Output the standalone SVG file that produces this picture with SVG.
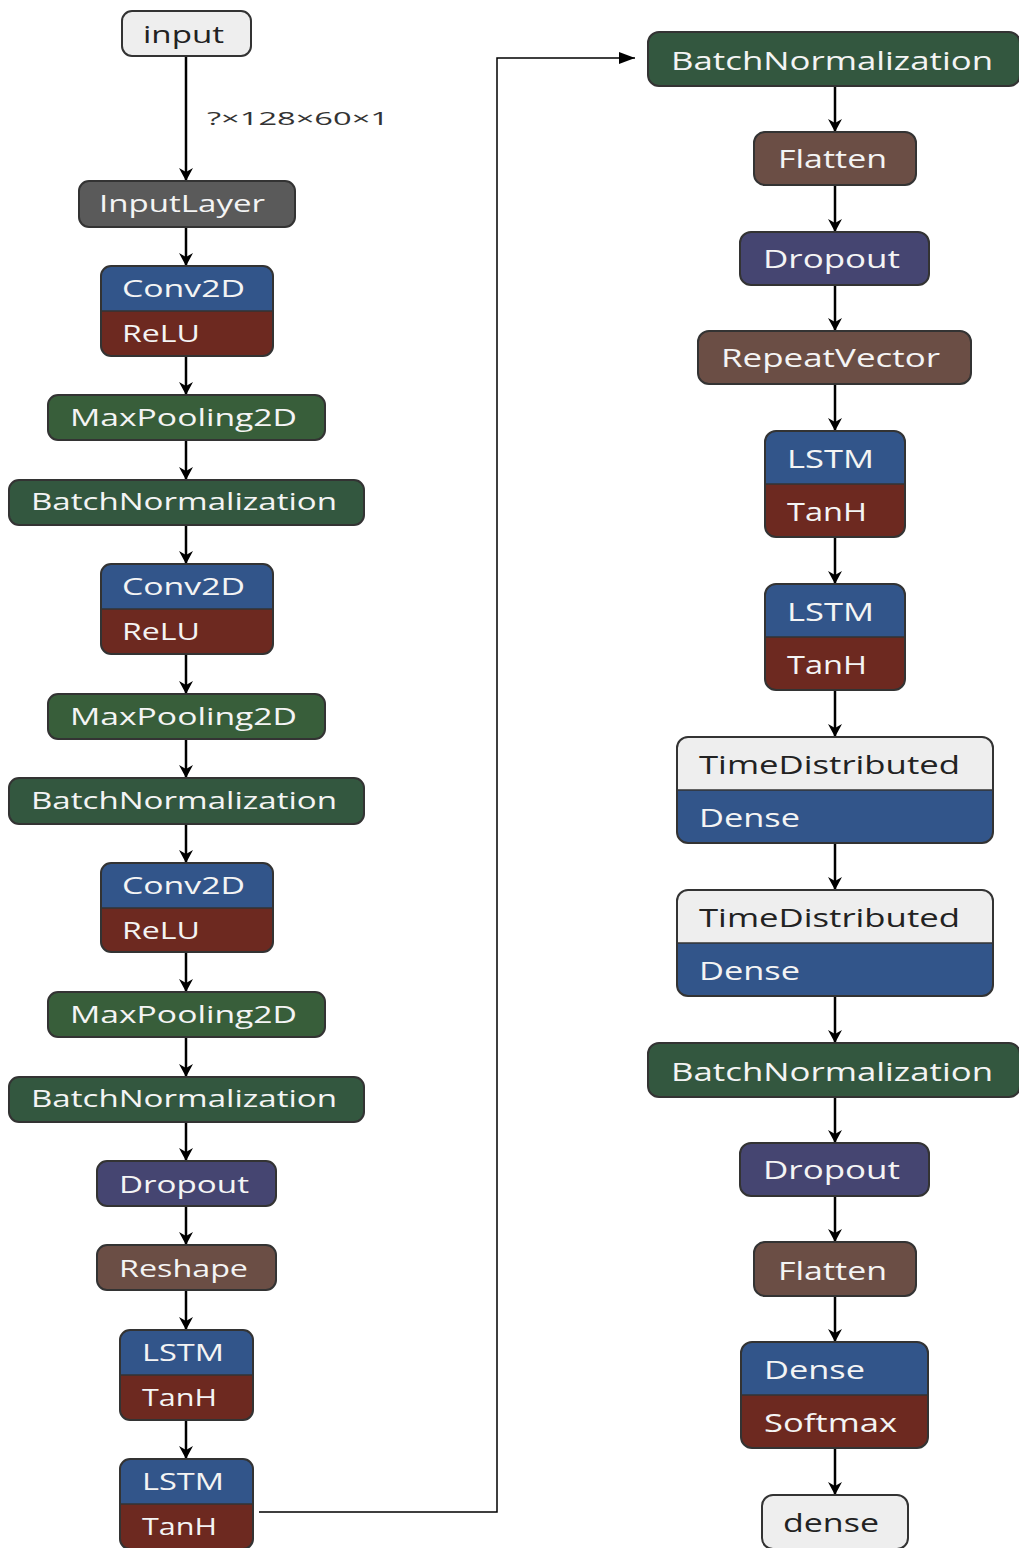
<svg xmlns="http://www.w3.org/2000/svg" width="1019" height="1548" viewBox="0 0 1019 1548">
<style>
text{font-family:"Open Sans","Noto Sans","DejaVu Sans",sans-serif;}
.l{font-size:23px;fill:#f4f4f4;}
.r{font-size:26px;fill:#f4f4f4;}
.o{fill:none;stroke:#333;stroke-width:2;}
.dv{stroke:#333;stroke-width:1.5;}
.e{fill:none;stroke:#000;stroke-width:2.5;marker-end:url(#ah);}
.gray{fill:#eeeeee;}
.blue{fill:#32558a;}
.red{fill:#6d2920;}
</style>
<defs>
<marker id="ah" markerUnits="userSpaceOnUse" markerWidth="16" markerHeight="16" refX="13" refY="7" orient="auto">
<path d="M0,0 L13,7 L0,14 L4,7 Z" fill="#000"/>
</marker>
<marker id="tri" markerUnits="userSpaceOnUse" markerWidth="18" markerHeight="14" refX="16" refY="6" orient="auto">
<path d="M0,0 L16,6 L0,12 Z" fill="#000"/>
</marker>
</defs>
<rect width="1019" height="1548" fill="#fff"/>

<g id="connectors">
<path class="e" d="M186,56 V181"/>
<path class="e" d="M186,227 V266"/>
<path class="e" d="M186,356 V395"/>
<path class="e" d="M186,440 V480"/>
<path class="e" d="M186,525 V564"/>
<path class="e" d="M186,654 V694"/>
<path class="e" d="M186,739 V778"/>
<path class="e" d="M186,824 V863"/>
<path class="e" d="M186,952 V992"/>
<path class="e" d="M186,1037 V1077"/>
<path class="e" d="M186,1122 V1161"/>
<path class="e" d="M186,1206 V1245"/>
<path class="e" d="M186,1290 V1330"/>
<path class="e" d="M186,1420 V1459"/>
<path d="M259,1512 H497 V58 H635" fill="none" stroke="#000" stroke-width="1.5" marker-end="url(#tri)"/>
<path class="e" d="M835,86 V132"/>
<path class="e" d="M835,185 V232"/>
<path class="e" d="M835,285 V331"/>
<path class="e" d="M835,384 V431"/>
<path class="e" d="M835,537 V584"/>
<path class="e" d="M835,690 V737"/>
<path class="e" d="M835,843 V890"/>
<path class="e" d="M835,996 V1043"/>
<path class="e" d="M835,1097 V1143"/>
<path class="e" d="M835,1196 V1242"/>
<path class="e" d="M835,1296 V1342"/>
<path class="e" d="M835,1448 V1495"/>
<text x="207" y="125" font-size="19" fill="#333" textLength="182" lengthAdjust="spacingAndGlyphs">?×128×60×1</text>
</g>

<g id="input"><rect class="o" x="122" y="11" width="129" height="45" rx="10" style="fill:#eeeeee"/><text class="l" style="fill:#222" x="143" y="43" textLength="81" lengthAdjust="spacingAndGlyphs">input</text></g>
<g id="inputlayer"><rect class="o" x="79" y="181" width="216" height="46" rx="10" style="fill:#5a5a5a"/><text class="l" x="99" y="212" textLength="166" lengthAdjust="spacingAndGlyphs">InputLayer</text></g>

<g id="conv1">
<path class="blue" d="M101,311 V276 A10,10 0 0 1 111,266 H263 A10,10 0 0 1 273,276 V311 Z"/>
<path class="red" d="M101,311 H273 V346 A10,10 0 0 1 263,356 H111 A10,10 0 0 1 101,346 Z"/>
<line class="dv" x1="101" y1="311" x2="273" y2="311"/>
<rect class="o" x="101" y="266" width="172" height="90" rx="10"/>
<text class="l" x="122" y="297" textLength="123" lengthAdjust="spacingAndGlyphs">Conv2D</text>
<text class="l" x="122" y="342" textLength="78" lengthAdjust="spacingAndGlyphs">ReLU</text>
</g>
<g id="maxpool1"><rect class="o" x="48" y="395" width="277" height="45" rx="10" style="fill:#385e3a"/><text class="l" x="70" y="426" textLength="227" lengthAdjust="spacingAndGlyphs">MaxPooling2D</text></g>
<g id="bn1"><rect class="o" x="9" y="480" width="355" height="45" rx="10" style="fill:#33573f"/><text class="l" x="31" y="510" textLength="306" lengthAdjust="spacingAndGlyphs">BatchNormalization</text></g>

<g id="conv2">
<path class="blue" d="M101,609 V574 A10,10 0 0 1 111,564 H263 A10,10 0 0 1 273,574 V609 Z"/>
<path class="red" d="M101,609 H273 V644 A10,10 0 0 1 263,654 H111 A10,10 0 0 1 101,644 Z"/>
<line class="dv" x1="101" y1="609" x2="273" y2="609"/>
<rect class="o" x="101" y="564" width="172" height="90" rx="10"/>
<text class="l" x="122" y="595" textLength="123" lengthAdjust="spacingAndGlyphs">Conv2D</text>
<text class="l" x="122" y="640" textLength="78" lengthAdjust="spacingAndGlyphs">ReLU</text>
</g>
<g id="maxpool2"><rect class="o" x="48" y="694" width="277" height="45" rx="10" style="fill:#385e3a"/><text class="l" x="70" y="725" textLength="227" lengthAdjust="spacingAndGlyphs">MaxPooling2D</text></g>
<g id="bn2"><rect class="o" x="9" y="778" width="355" height="46" rx="10" style="fill:#33573f"/><text class="l" x="31" y="809" textLength="306" lengthAdjust="spacingAndGlyphs">BatchNormalization</text></g>

<g id="conv3">
<path class="blue" d="M101,908 V873 A10,10 0 0 1 111,863 H263 A10,10 0 0 1 273,873 V908 Z"/>
<path class="red" d="M101,908 H273 V942 A10,10 0 0 1 263,952 H111 A10,10 0 0 1 101,942 Z"/>
<line class="dv" x1="101" y1="908" x2="273" y2="908"/>
<rect class="o" x="101" y="863" width="172" height="89" rx="10"/>
<text class="l" x="122" y="894" textLength="123" lengthAdjust="spacingAndGlyphs">Conv2D</text>
<text class="l" x="122" y="939" textLength="78" lengthAdjust="spacingAndGlyphs">ReLU</text>
</g>
<g id="maxpool3"><rect class="o" x="48" y="992" width="277" height="45" rx="10" style="fill:#385e3a"/><text class="l" x="70" y="1023" textLength="227" lengthAdjust="spacingAndGlyphs">MaxPooling2D</text></g>
<g id="bn3"><rect class="o" x="9" y="1077" width="355" height="45" rx="10" style="fill:#33573f"/><text class="l" x="31" y="1107" textLength="306" lengthAdjust="spacingAndGlyphs">BatchNormalization</text></g>
<g id="dropout1"><rect class="o" x="97" y="1161" width="179" height="45" rx="10" style="fill:#454571"/><text class="l" x="119" y="1193" textLength="130" lengthAdjust="spacingAndGlyphs">Dropout</text></g>
<g id="reshape"><rect class="o" x="97" y="1245" width="179" height="45" rx="10" style="fill:#6b4e45"/><text class="l" x="119" y="1277" textLength="129" lengthAdjust="spacingAndGlyphs">Reshape</text></g>

<g id="lstm1">
<path class="blue" d="M120,1375 V1340 A10,10 0 0 1 130,1330 H243 A10,10 0 0 1 253,1340 V1375 Z"/>
<path class="red" d="M120,1375 H253 V1410 A10,10 0 0 1 243,1420 H130 A10,10 0 0 1 120,1410 Z"/>
<line class="dv" x1="120" y1="1375" x2="253" y2="1375"/>
<rect class="o" x="120" y="1330" width="133" height="90" rx="10"/>
<text class="l" x="142" y="1361" textLength="82" lengthAdjust="spacingAndGlyphs">LSTM</text>
<text class="l" x="142" y="1406" textLength="75" lengthAdjust="spacingAndGlyphs">TanH</text>
</g>
<g id="lstm2">
<path class="blue" d="M120,1504 V1469 A10,10 0 0 1 130,1459 H243 A10,10 0 0 1 253,1469 V1504 Z"/>
<path class="red" d="M120,1504 H253 V1539 A10,10 0 0 1 243,1549 H130 A10,10 0 0 1 120,1539 Z"/>
<line class="dv" x1="120" y1="1504" x2="253" y2="1504"/>
<rect class="o" x="120" y="1459" width="133" height="90" rx="10"/>
<text class="l" x="142" y="1490" textLength="82" lengthAdjust="spacingAndGlyphs">LSTM</text>
<text class="l" x="142" y="1535" textLength="75" lengthAdjust="spacingAndGlyphs">TanH</text>
</g>

<g id="bn4"><rect class="o" x="648" y="32" width="372" height="54" rx="11" style="fill:#33573f"/><text class="r" x="671" y="70" textLength="322" lengthAdjust="spacingAndGlyphs">BatchNormalization</text></g>
<g id="flatten1"><rect class="o" x="754" y="132" width="162" height="53" rx="11" style="fill:#6b4e45"/><text class="r" x="778" y="168" textLength="109" lengthAdjust="spacingAndGlyphs">Flatten</text></g>
<g id="dropout2"><rect class="o" x="740" y="232" width="189" height="53" rx="11" style="fill:#454571"/><text class="r" x="763" y="268" textLength="137" lengthAdjust="spacingAndGlyphs">Dropout</text></g>
<g id="repeatvector"><rect class="o" x="698" y="331" width="273" height="53" rx="11" style="fill:#6b4e45"/><text class="r" x="721" y="367" textLength="219" lengthAdjust="spacingAndGlyphs">RepeatVector</text></g>

<g id="lstm3">
<path class="blue" d="M765,484 V442 A11,11 0 0 1 776,431 H894 A11,11 0 0 1 905,442 V484 Z"/>
<path class="red" d="M765,484 H905 V526 A11,11 0 0 1 894,537 H776 A11,11 0 0 1 765,526 Z"/>
<line class="dv" x1="765" y1="484" x2="905" y2="484"/>
<rect class="o" x="765" y="431" width="140" height="106" rx="11"/>
<text class="r" x="787" y="468" textLength="87" lengthAdjust="spacingAndGlyphs">LSTM</text>
<text class="r" x="787" y="521" textLength="80" lengthAdjust="spacingAndGlyphs">TanH</text>
</g>
<g id="lstm4">
<path class="blue" d="M765,637 V595 A11,11 0 0 1 776,584 H894 A11,11 0 0 1 905,595 V637 Z"/>
<path class="red" d="M765,637 H905 V679 A11,11 0 0 1 894,690 H776 A11,11 0 0 1 765,679 Z"/>
<line class="dv" x1="765" y1="637" x2="905" y2="637"/>
<rect class="o" x="765" y="584" width="140" height="106" rx="11"/>
<text class="r" x="787" y="621" textLength="87" lengthAdjust="spacingAndGlyphs">LSTM</text>
<text class="r" x="787" y="674" textLength="80" lengthAdjust="spacingAndGlyphs">TanH</text>
</g>

<g id="timedist1">
<path class="gray" d="M677,790 V748 A11,11 0 0 1 688,737 H982 A11,11 0 0 1 993,748 V790 Z"/>
<path class="blue" d="M677,790 H993 V832 A11,11 0 0 1 982,843 H688 A11,11 0 0 1 677,832 Z"/>
<line class="dv" x1="677" y1="790" x2="993" y2="790"/>
<rect class="o" x="677" y="737" width="316" height="106" rx="11"/>
<text class="r" style="fill:#222" x="699" y="774" textLength="261" lengthAdjust="spacingAndGlyphs">TimeDistributed</text>
<text class="r" x="699" y="827" textLength="101" lengthAdjust="spacingAndGlyphs">Dense</text>
</g>
<g id="timedist2">
<path class="gray" d="M677,943 V901 A11,11 0 0 1 688,890 H982 A11,11 0 0 1 993,901 V943 Z"/>
<path class="blue" d="M677,943 H993 V985 A11,11 0 0 1 982,996 H688 A11,11 0 0 1 677,985 Z"/>
<line class="dv" x1="677" y1="943" x2="993" y2="943"/>
<rect class="o" x="677" y="890" width="316" height="106" rx="11"/>
<text class="r" style="fill:#222" x="699" y="927" textLength="261" lengthAdjust="spacingAndGlyphs">TimeDistributed</text>
<text class="r" x="699" y="980" textLength="101" lengthAdjust="spacingAndGlyphs">Dense</text>
</g>

<g id="bn5"><rect class="o" x="648" y="1043" width="372" height="54" rx="11" style="fill:#33573f"/><text class="r" x="671" y="1081" textLength="322" lengthAdjust="spacingAndGlyphs">BatchNormalization</text></g>
<g id="dropout3"><rect class="o" x="740" y="1143" width="189" height="53" rx="11" style="fill:#454571"/><text class="r" x="763" y="1179" textLength="137" lengthAdjust="spacingAndGlyphs">Dropout</text></g>
<g id="flatten2"><rect class="o" x="754" y="1242" width="162" height="54" rx="11" style="fill:#6b4e45"/><text class="r" x="778" y="1280" textLength="109" lengthAdjust="spacingAndGlyphs">Flatten</text></g>

<g id="dense">
<path class="blue" d="M741,1395 V1353 A11,11 0 0 1 752,1342 H917 A11,11 0 0 1 928,1353 V1395 Z"/>
<path class="red" d="M741,1395 H928 V1437 A11,11 0 0 1 917,1448 H752 A11,11 0 0 1 741,1437 Z"/>
<line class="dv" x1="741" y1="1395" x2="928" y2="1395"/>
<rect class="o" x="741" y="1342" width="187" height="106" rx="11"/>
<text class="r" x="764" y="1379" textLength="101" lengthAdjust="spacingAndGlyphs">Dense</text>
<text class="r" x="764" y="1432" textLength="133" lengthAdjust="spacingAndGlyphs">Softmax</text>
</g>
<g id="output"><rect class="o" x="762" y="1495" width="146" height="54" rx="11" style="fill:#eeeeee"/><text class="r" style="fill:#222" x="783" y="1532" textLength="96" lengthAdjust="spacingAndGlyphs">dense</text></g>
</svg>
